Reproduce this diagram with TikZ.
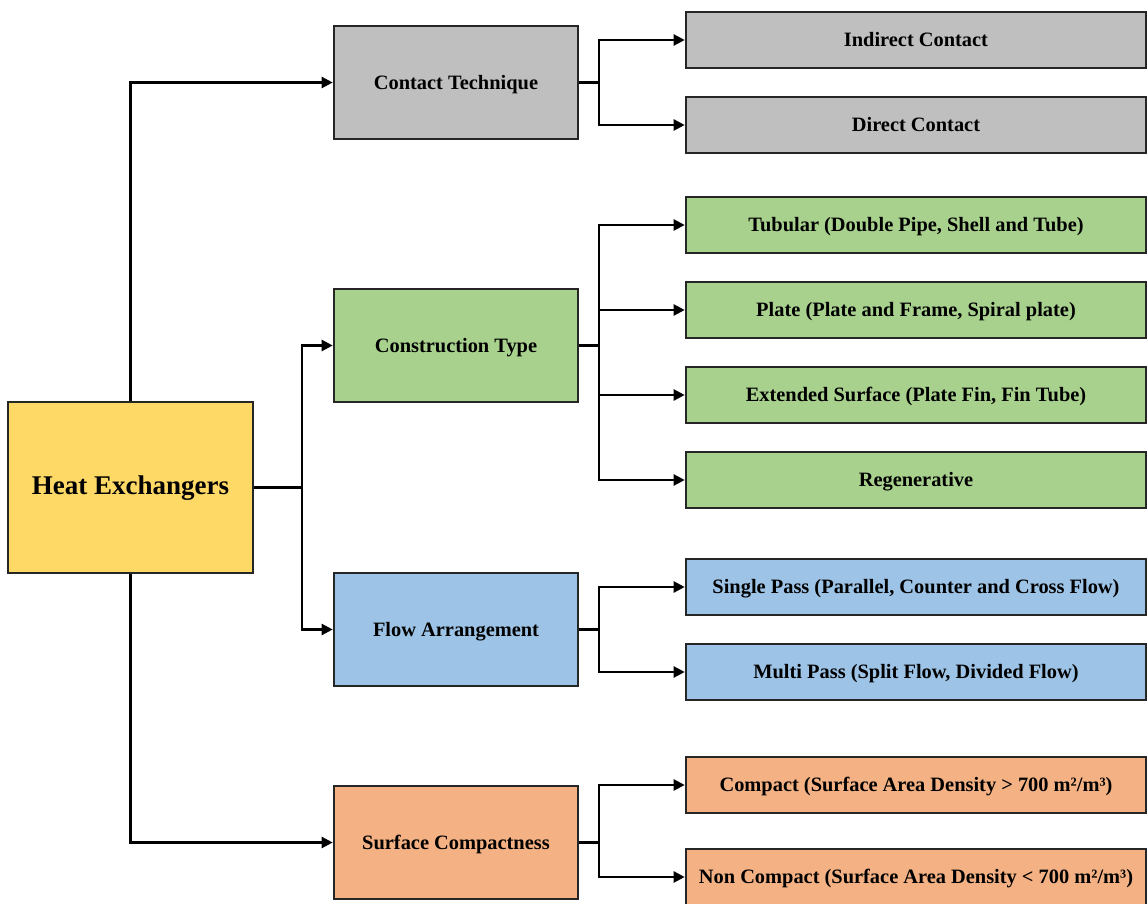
\documentclass[tikz,border=0pt]{standalone}
\usepackage{fontspec}
\setmainfont{Liberation Serif}
\usepackage{xcolor}
\usepackage{tikz}
\usetikzlibrary{positioning, arrows.meta, calc}

\definecolor{boxgray}{RGB}{191,191,191}
\definecolor{boxgreen}{RGB}{169,209,142}
\definecolor{boxblue}{RGB}{157,195,230}
\definecolor{boxorange}{RGB}{244,177,131}
\definecolor{boxyellow}{RGB}{255,217,102}

\tikzset{
  basebox/.style={draw=black!85, line width=1.3pt, inner sep=0pt, text height=0.66em, text depth=0pt,
    font=\bfseries\fontsize{10.2}{12}\selectfont},
  rootbox/.style={basebox, fill=boxyellow, minimum width=122.5pt, minimum height=85.5pt, font=\bfseries\fontsize{13.5}{16}\selectfont},
  midbox/.style={basebox, minimum width=122pt, minimum height=56.5pt},
  leafbox/.style={basebox, minimum width=230pt, minimum height=28pt},
  wire/.style={line width=1.15pt},
  link/.style={wire, -{Triangle[length=5.5pt,width=5.5pt]}}
}

\begin{document}
\begin{tikzpicture}[x=0.5pt, y=-0.5pt]
        \useasboundingbox (0,0) rectangle (1148,904);

        % root
        \node[rootbox] (hx) at (130.5,487.5) {Heat Exchangers};

        % first level
        \node[midbox, fill=boxgray]   (tech) at (456,82.5)  {Contact Technique};
        \node[midbox, fill=boxgreen]  (cons) at (456,345.5) {Construction Type};
        \node[midbox, fill=boxblue]   (flow) at (456,629.5) {Flow Arrangement};
        \node[midbox, fill=boxorange] (surf) at (456,842.5) {Surface Compactness};

        \draw[link] (hx.north) |- (tech.west);
        \draw[link] (hx.south) |- (surf.west);
        \coordinate (hxj) at (302,487.5);
        \draw[wire] (hx.east) -- (hxj);
        \draw[link] (hxj) |- (cons.west);
        \draw[link] (hxj) |- (flow.west);

        % second level
        \foreach \up/\nm/\yy/\col/\txt in {
            tech/ind/40/boxgray/{Indirect Contact},
            tech/dir/125/boxgray/{Direct Contact},
            cons/tub/225/boxgreen/{Tubular (Double Pipe, Shell and Tube)},
            cons/pla/310/boxgreen/{Plate (Plate and Frame, Spiral plate)},
            cons/ext/395/boxgreen/{Extended Surface (Plate Fin, Fin Tube)},
            cons/reg/480/boxgreen/{Regenerative},
            flow/sgl/587/boxblue/{Single Pass (Parallel, Counter and Cross Flow)},
            flow/mul/672/boxblue/{Multi Pass (Split Flow, Divided Flow)},
            surf/cmp/785/boxorange/{Compact (Surface Area Density > 700 m²/m³)},
            surf/non/877/boxorange/{Non Compact (Surface Area Density < 700 m²/m³)}} {
          \node[leafbox, fill=\col] (\nm) at (916,\yy) {\txt};
          \coordinate (\up j) at ($(\up.east)+(20,0)$);
          \draw[wire] (\up.east) -- (\up j);
          \draw[link] (\up j) |- (\nm.west);
        }
      \end{tikzpicture}
\end{document}
